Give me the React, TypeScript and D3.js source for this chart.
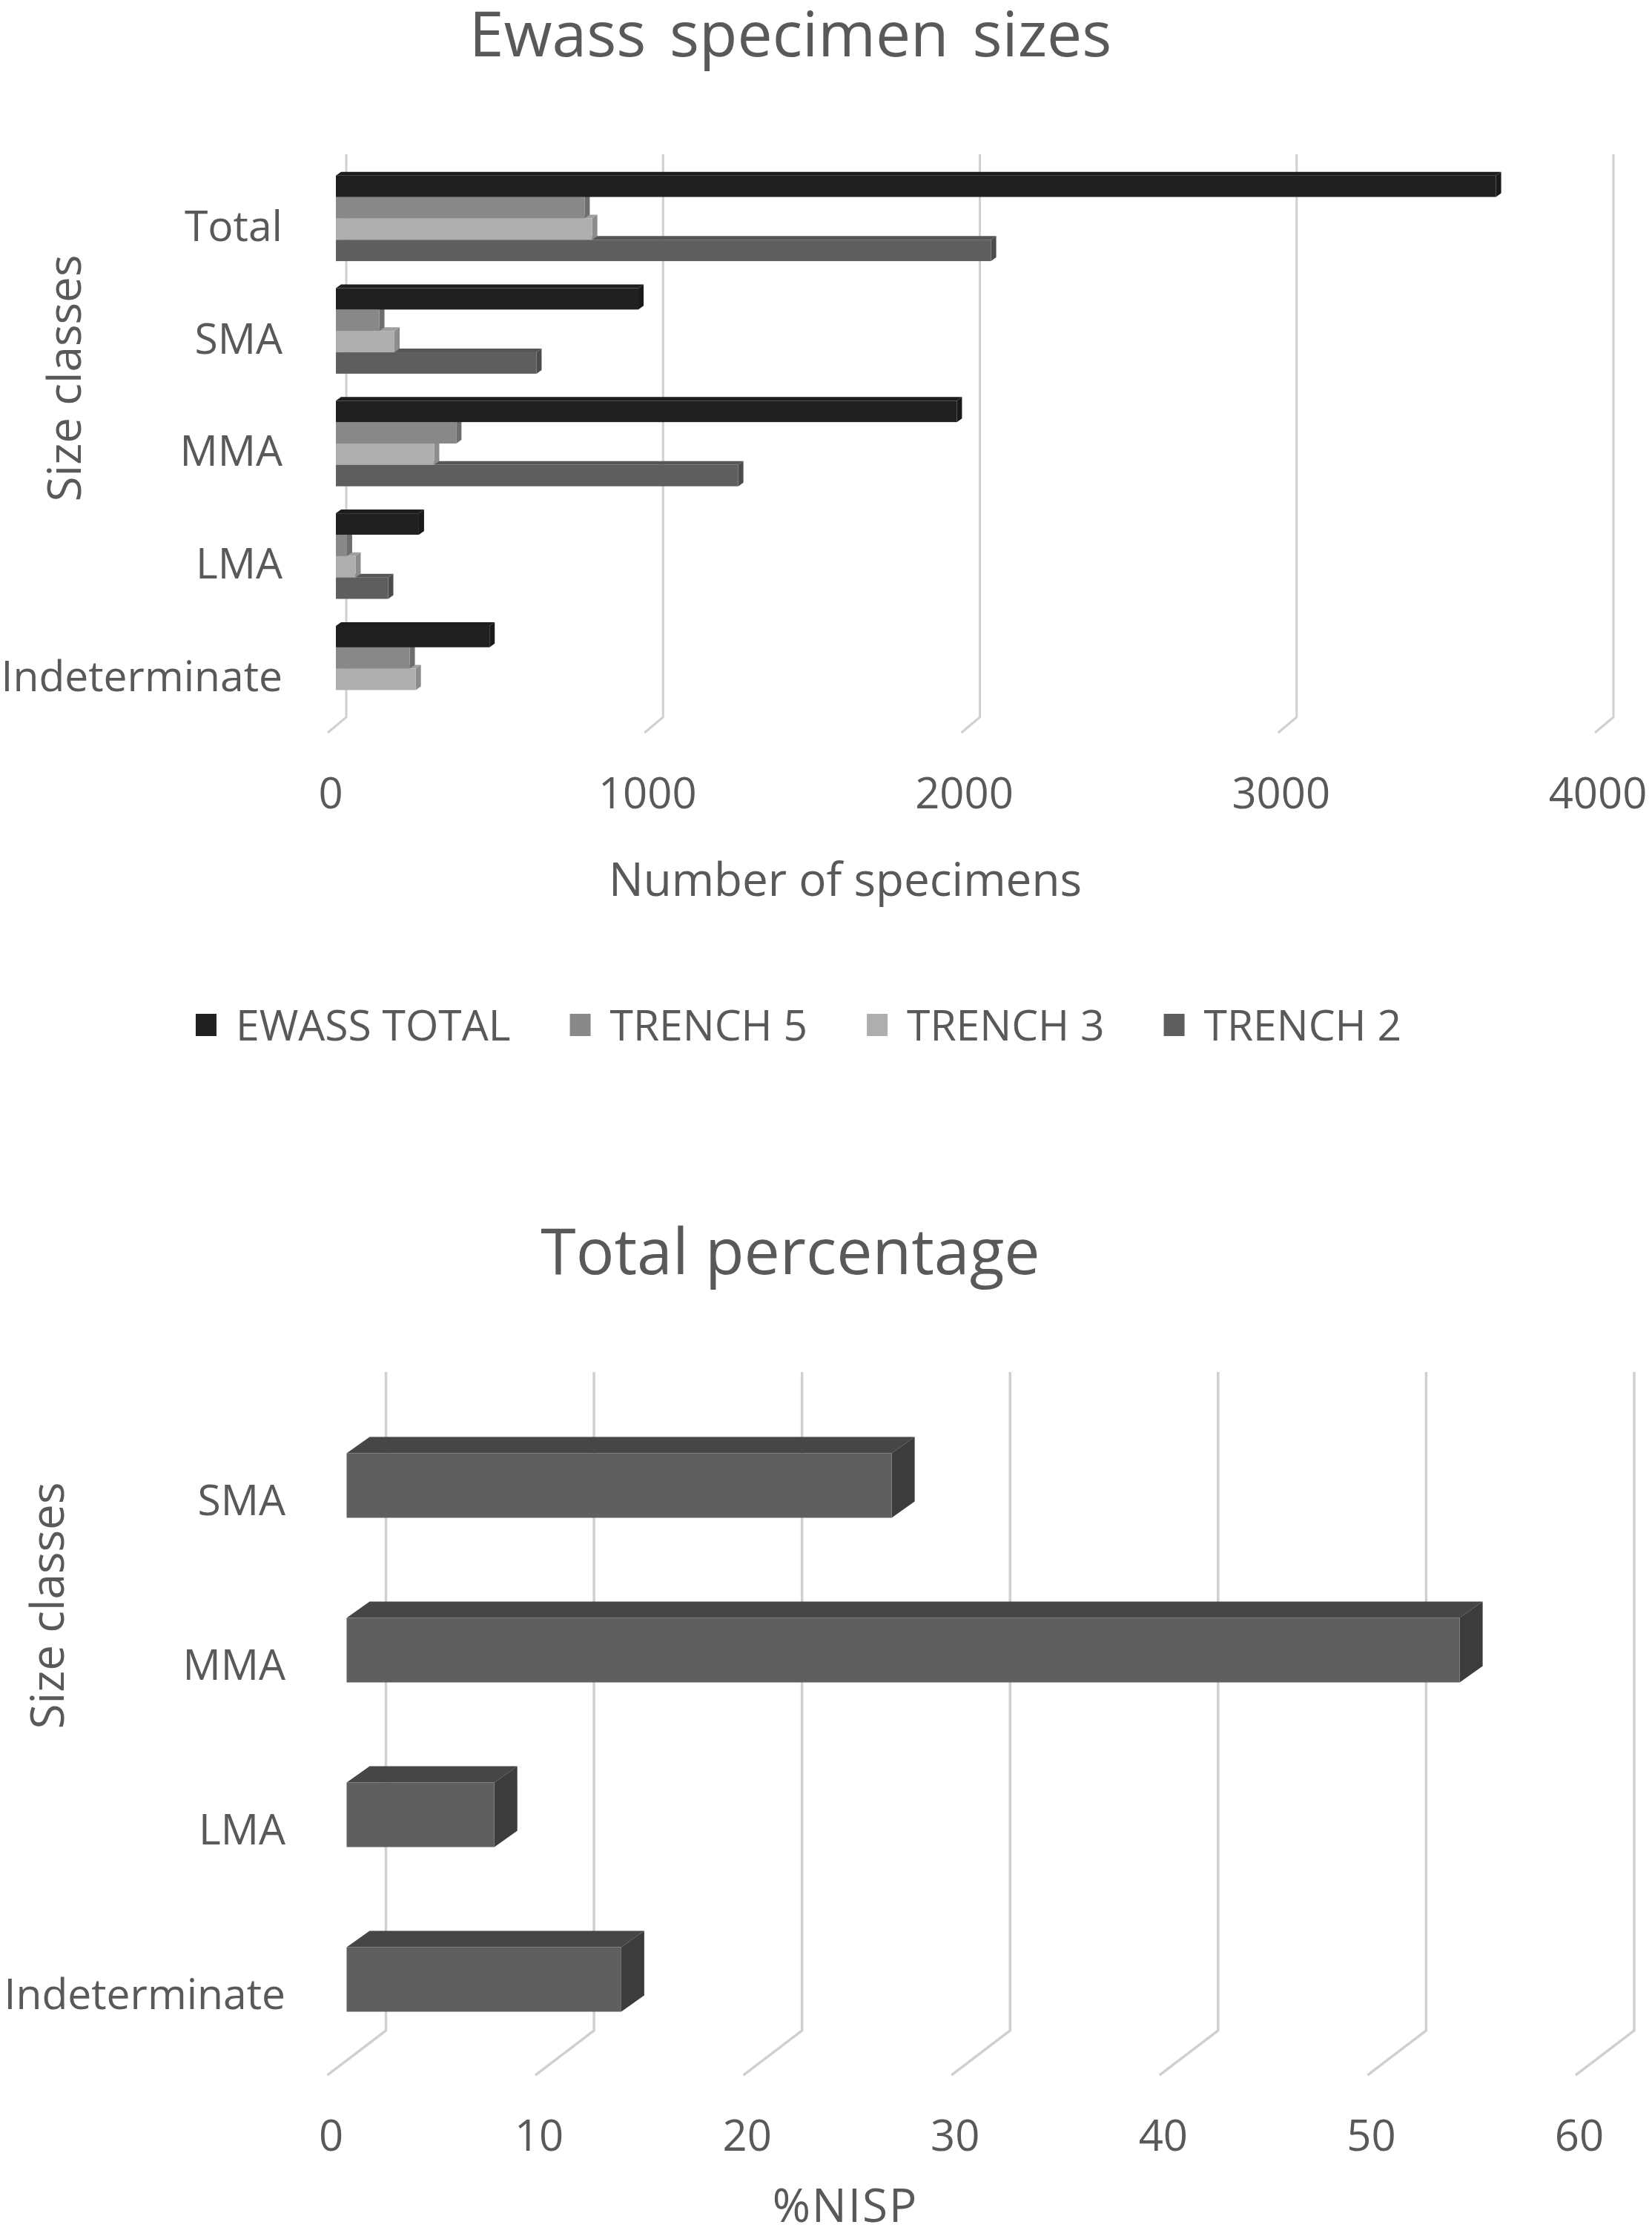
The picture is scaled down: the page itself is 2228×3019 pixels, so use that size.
import React, { useEffect, useRef } from "react";
import * as d3 from "d3";

// ---------- Data ----------
const categories1 = ["Total", "SMA", "MMA", "LMA", "Indeterminate"];
const seriesNames = ["EWASS TOTAL", "TRENCH 5", "TRENCH 3", "TRENCH 2"];
const ewassTotal = [3662, 955, 1960, 262, 485];
const trench5 = [785, 137, 380, 35, 233];
const trench3 = [809, 185, 310, 62, 252];
const trench2 = [2068, 633, 1270, 165, 0];
const xTicks1 = [0, 1000, 2000, 3000, 4000];

const categories2 = ["SMA", "MMA", "LMA", "Indeterminate"];
const nispPercent = [26.2, 53.5, 7.1, 13.2];
const xTicks2 = [0, 10, 20, 30, 40, 50, 60];

const seriesColors = ["#202020", "#888888", "#aeaeae", "#5e5e5e"];

const W = 2228;
const H = 3019;
const FONT = "'Open Sans', 'Noto Sans', sans-serif";
const TEXT = "#595959";
const GRID = "#d0d0d0";

export default function App() {
  const ref = useRef<SVGSVGElement | null>(null);

  useEffect(() => {
    const svg = d3.select(ref.current);
    svg.selectAll("*").remove();
    svg.append("rect").attr("width", W).attr("height", H).attr("fill", "#ffffff");

    // ================= Chart 1 =================
    const g1 = svg.append("g");
    const x1 = d3.scaleLinear().domain([0, 4000]).range([467, 2176]);
    const y1 = d3
      .scaleBand<string>()
      .domain(categories1)
      .range([208, 967])
      .paddingInner(0.24)
      .paddingOuter(0.12);
    const sub = d3.scaleBand<string>().domain(seriesNames).range([0, y1.bandwidth()]);
    const seriesValues = [ewassTotal, trench5, trench3, trench2];
    const floor1 = { dx: -25, dy: 21 };
    const front1 = { dx: -14, dy: 10.5 };
    const cap1 = { dx: 7, dy: -5 };

    g1.append("text")
      .attr("x", 1066)
      .attr("y", 76)
      .attr("text-anchor", "middle")
      .attr("font-family", FONT)
      .attr("font-size", 84)
      .attr("word-spacing", 10)
      .attr("fill", TEXT)
      .text("Ewass specimen sizes");

    // gridlines with 3D floor foot
    const [top1, bot1] = y1.range();
    g1.selectAll("path.grid")
      .data(xTicks1)
      .join("path")
      .attr("class", "grid")
      .attr(
        "d",
        (t) =>
          `M${x1(t)},${top1} L${x1(t)},${bot1} L${x1(t) + floor1.dx},${bot1 + floor1.dy}`
      )
      .attr("fill", "none")
      .attr("stroke", GRID)
      .attr("stroke-width", 3);

    // bars (draw bottom series first so upper bars overlap top faces)
    for (let s = seriesNames.length - 1; s >= 0; s--) {
      const name = seriesNames[s];
      const col = seriesColors[s];
      const dark = d3.color(col)!.darker(0.6).formatHex();
      const lite = d3.color(col)!.darker(0.25).formatHex();
      categories1.forEach((c, i) => {
        const v = seriesValues[s][i];
        if (v <= 0) return;
        const xa = x1(0) + front1.dx;
        const xb = x1(v) + front1.dx;
        const ya = (y1(c) as number) + sub(name)! + front1.dy;
        const h = sub.bandwidth();
        const gb = g1.append("g");
        gb.append("path")
          .attr(
            "d",
            `M${xa},${ya} L${xa + cap1.dx},${ya + cap1.dy} L${xb + cap1.dx},${ya + cap1.dy} L${xb},${ya} Z`
          )
          .attr("fill", lite);
        gb.append("path")
          .attr(
            "d",
            `M${xb},${ya} L${xb + cap1.dx},${ya + cap1.dy} L${xb + cap1.dx},${ya + h + cap1.dy} L${xb},${ya + h} Z`
          )
          .attr("fill", dark);
        gb.append("rect")
          .attr("x", xa)
          .attr("y", ya)
          .attr("width", Math.max(0, xb - xa))
          .attr("height", h)
          .attr("fill", col);
      });
    }

    // category labels
    g1.selectAll("text.cat")
      .data(categories1)
      .join("text")
      .attr("class", "cat")
      .attr("x", 381)
      .attr("y", (c) => (y1(c) as number) + 98.5)
      .attr("text-anchor", "end")
      .attr("font-family", FONT)
      .attr("font-size", 57)
      .attr("fill", TEXT)
      .text((c) => c);

    // y title
    g1.append("text")
      .attr("transform", "translate(109,510) rotate(-90)")
      .attr("text-anchor", "middle")
      .attr("font-family", FONT)
      .attr("font-size", 62)
      .attr("fill", TEXT)
      .text("Size classes");

    // x tick labels
    g1.selectAll("text.tick")
      .data(xTicks1)
      .join("text")
      .attr("class", "tick")
      .attr("x", (t) => x1(t) - 21)
      .attr("y", 1090)
      .attr("text-anchor", "middle")
      .attr("font-family", FONT)
      .attr("font-size", 58)
      .attr("fill", TEXT)
      .text((t) => String(t));

    g1.append("text")
      .attr("x", 1140)
      .attr("y", 1208)
      .attr("text-anchor", "middle")
      .attr("font-family", FONT)
      .attr("font-size", 62)
      .attr("fill", TEXT)
      .text("Number of specimens");

    // legend
    const leg = g1.append("g");
    let cx = 0;
    seriesNames.forEach((n, i) => {
      const it = leg.append("g");
      it.append("rect")
        .attr("x", cx)
        .attr("y", 1367)
        .attr("width", 28)
        .attr("height", 30)
        .attr("fill", seriesColors[i]);
      const t = it
        .append("text")
        .attr("x", cx + 54)
        .attr("y", 1403)
        .attr("font-family", FONT)
        .attr("font-size", 57)
        .attr("fill", TEXT)
        .text(n);
      const tw = (t.node() as SVGTextElement).getComputedTextLength();
      cx += 54 + tw + 80;
    });
    const legW = cx - 80;
    leg.attr("transform", `translate(${1077 - legW / 2},0)`);

    // ================= Chart 2 =================
    const g2 = svg.append("g");
    const x2 = d3.scaleLinear().domain([0, 60]).range([520.5, 2204]);
    const y2 = d3
      .scaleBand<string>()
      .domain(categories2)
      .range([1850, 2738])
      .paddingInner(0.608)
      .paddingOuter(0.304);
    const floor2 = { dx: -79, dy: 60 };
    const front2 = { dx: -53, dy: 42 };
    const depth2 = { dx: 31, dy: -22 };

    g2.append("text")
      .attr("x", 1066)
      .attr("y", 1718)
      .attr("text-anchor", "middle")
      .attr("font-family", FONT)
      .attr("font-size", 86)
      .attr("fill", TEXT)
      .text("Total percentage");

    const [top2, bot2] = y2.range();
    g2.selectAll("path.grid")
      .data(xTicks2)
      .join("path")
      .attr("class", "grid")
      .attr(
        "d",
        (t) =>
          `M${x2(t)},${top2} L${x2(t)},${bot2} L${x2(t) + floor2.dx},${bot2 + floor2.dy}`
      )
      .attr("fill", "none")
      .attr("stroke", GRID)
      .attr("stroke-width", 3.5);

    categories2.forEach((c, i) => {
      const v = nispPercent[i];
      const xa = x2(0) + front2.dx;
      const xb = x2(v) + front2.dx;
      const ya = (y2(c) as number) + front2.dy;
      const h = y2.bandwidth();
      const gb = g2.append("g");
      gb.append("path")
        .attr(
          "d",
          `M${xa},${ya} L${xa + depth2.dx},${ya + depth2.dy} L${xb + depth2.dx},${ya + depth2.dy} L${xb},${ya} Z`
        )
        .attr("fill", "#464646");
      gb.append("path")
        .attr(
          "d",
          `M${xb},${ya} L${xb + depth2.dx},${ya + depth2.dy} L${xb + depth2.dx},${ya + h + depth2.dy} L${xb},${ya + h} Z`
        )
        .attr("fill", "#3c3c3c");
      gb.append("rect")
        .attr("x", xa)
        .attr("y", ya)
        .attr("width", xb - xa)
        .attr("height", h)
        .attr("fill", "#5f5f5f");
    });

    g2.selectAll("text.cat")
      .data(categories2)
      .join("text")
      .attr("class", "cat")
      .attr("x", 385)
      .attr("y", (c) => (y2(c) as number) + front2.dy + y2.bandwidth() / 2 + 40)
      .attr("text-anchor", "end")
      .attr("font-family", FONT)
      .attr("font-size", 57)
      .attr("fill", TEXT)
      .text((c) => c);

    g2.append("text")
      .attr("transform", "translate(86,2165) rotate(-90)")
      .attr("text-anchor", "middle")
      .attr("font-family", FONT)
      .attr("font-size", 62)
      .attr("fill", TEXT)
      .text("Size classes");

    g2.selectAll("text.tick")
      .data(xTicks2)
      .join("text")
      .attr("class", "tick")
      .attr("x", (t) => x2(t) - 74)
      .attr("y", 2900)
      .attr("text-anchor", "middle")
      .attr("font-family", FONT)
      .attr("font-size", 58)
      .attr("fill", TEXT)
      .text((t) => String(t));

    g2.append("text")
      .attr("x", 1140)
      .attr("y", 2996)
      .attr("text-anchor", "middle")
      .attr("font-family", FONT)
      .attr("font-size", 62)
      .attr("letter-spacing", 2)
      .attr("fill", TEXT)
      .text("%NISP");
  }, []);

  return (
    <svg
      ref={ref}
      width={W}
      height={H}
      style={{ position: "absolute", left: 0, top: 0, display: "block" }}
    />
  );
}
